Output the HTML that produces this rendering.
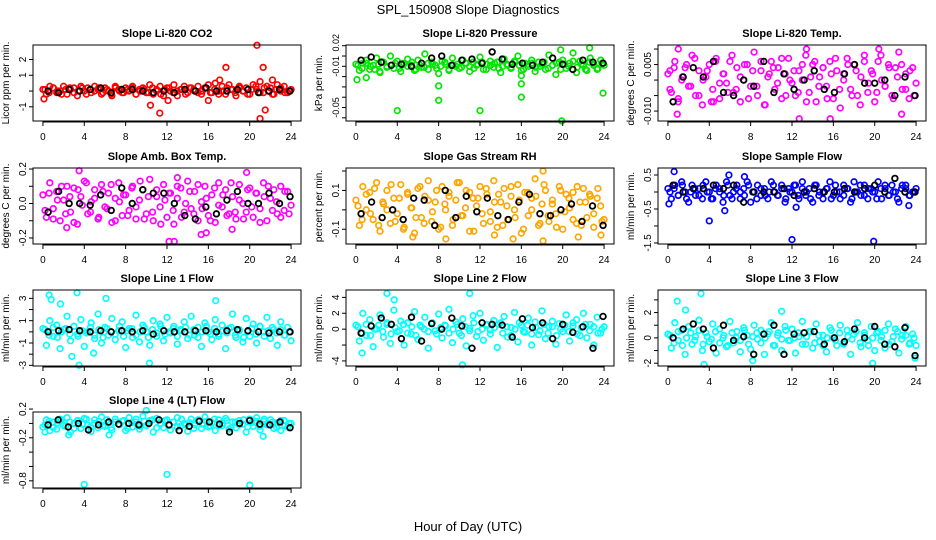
<!DOCTYPE html>
<html><head><meta charset="utf-8"><style>
html,body{margin:0;padding:0;background:#fff;}
svg{display:block;font-family:"Liberation Sans",Arial,sans-serif;}
</style></head><body>
<svg id="chart" width="936" height="540" viewBox="0 0 936 540" xmlns="http://www.w3.org/2000/svg">
<rect width="936" height="540" fill="#fff"/>
<text x="468" y="14" text-anchor="middle" font-size="13">SPL_150908  Slope Diagnostics</text>
<text x="468" y="531" text-anchor="middle" font-size="13">Hour of Day (UTC)</text>
</svg>
<script>
const xTicks = [0,4,8,12,16,20,24];
const titles = ["Slope Li-820 CO2","Slope Li-820 Pressure","Slope Li-820 Temp.","Slope Amb. Box Temp.","Slope Gas Stream RH","Slope Sample Flow","Slope Line 1 Flow","Slope Line 2 Flow","Slope Line 3 Flow","Slope Line 4 (LT) Flow"];
const yLabels = ["Licor ppm per min.","kPa per min.","degrees C per min.","degrees C per min.","percent per min.","ml/min per min.","ml/min per min.","ml/min per min.","ml/min per min.","ml/min per min."];
const colors = ["#ff0000","#00e600","#ff00ff","#ff00ff","#ffa500","#0000ff","#00ffff","#00ffff","#00ffff","#00ffff"];
const yDomains = [[-1.9,2.92],[-0.0531,0.0207],[-0.0132,0.0113],[-0.235,0.206],[-0.176,0.2155],[-1.53,0.706],[-3.06,3.75],[-4.64,4.93],[-2.22,3.78],[-0.9,0.159]];
const yTickVals = [[2,1,0,-1],[0.02,0.01,0,-0.01,-0.02,-0.03,-0.04,-0.05],[0.01,0.005,0,-0.005,-0.01],[0.2,0.1,0,-0.1,-0.2],[0.2,0.1,0,-0.1],[0.5,0,-0.5,-1,-1.5],[3,2,1,0,-1,-2,-3],[4,2,0,-2,-4],[3,2,1,0,-1,-2],[0.2,0,-0.2,-0.4,-0.6,-0.8]];
const yTickLabels = [["2","1","","-1"],["0.02","","-0.01","","","","-0.05",""],["","0.005","","","-0.010"],["0.2","","0.0","","-0.2"],["","0.1","","-0.1"],["0.5","","-0.5","","-1.5"],["3","","1","","-1","","-3"],["4","2","0","","-4"],["","2","","0","","-2"],["0.2","","-0.2","","","-0.8"]];

const col0=[0.1,-0.2,0.3,0.2,-0.1,0.0,0.3,-0.2,0.1,0.2,-0.3,0.3,0.0,0.2,-0.1,0.3,0.1,-0.2,0.2,0.0,-0.3,0.3,0.1,-0.1,0.2,0.0,0.3,-0.2,0.1,0.2,-0.1,0.4,-0.2,0.1,0.3,-0.3,0.2,0.0,0.4,-0.3,0.1,0.3,-0.1,0.2,0.0,0.3,-0.2,0.2,0.4,-0.1,0.5,0.0,0.3,-0.2,0.4,0.1,-0.3,0.3,0.0,0.2,-0.2,0.4,0.1,0.6,-0.1,0.3,0.2,-0.2,0.4,0.0,0.3,-0.1,0.1];
const core0=[0.1,-0.1,0.2,0.0,-0.2,0.1,0.2,-0.1,0.0,0.2,-0.2,0.1,0.0,0.2,-0.1,0.1,-0.2,0.2,0.0,-0.1,0.1,0.2,-0.2,0.0,0.1,-0.1,0.2,0.0,-0.2,0.1,0.2,-0.1,0.0,0.1,-0.2,0.2,0.1,-0.1,0.0,0.2,-0.1,0.1,-0.2,0.0,0.2,0.1,-0.1,0.2,0.0,-0.2,0.1,0.3,-0.1,0.2,0.0,-0.2,0.1,0.2,-0.1,0.0];
const blk0=[0.0,-0.1,0.1,0.0,0.1,0.2,-0.1,0.1,0.1,0.0,-0.1,0.0,-0.1,0.1,0.0,0.2,0.0,0.0,0.1,0.1,-0.1,0.0,0.1,0.0];
const outX0=[20.7,17.7,21.3,10.4,11.3,21.5,21.0,12.1,0.1,16.0,17.1,22.2];
const outY0=[2.9,1.5,1.5,-0.9,-1.4,-1.2,-1.75,-0.6,-0.5,-0.6,0.7,0.7];

const col1=[0.002,-0.004,0.003,0.006,-0.003,0.001,0.008,-0.006,0.004,0.000,0.010,-0.002,0.005,-0.005,0.003,0.007,0.001,-0.004,0.006,-0.001,0.012,-0.003,0.004,0.001,-0.007,0.005,0.002,-0.004,0.008,0.000,-0.002,0.006,0.003,-0.005,0.004,0.001,0.009,-0.003,0.002,0.005,-0.001,0.004,-0.006,0.007,0.001,-0.002,0.005,0.010,-0.004,0.003,0.000,0.006,-0.005,0.004,0.002,-0.003,0.011,0.001,-0.008,0.004,0.006,-0.002,0.003,0.013,-0.006,0.005,0.001,-0.004,0.008,0.002,-0.003,0.006,0.001];
const core1=[0.001,-0.002,0.003,0.000,-0.003,0.002,0.004,-0.001,0.001,0.003,-0.002,0.002,0.000,0.004,-0.003,0.001,-0.001,0.003,0.002,-0.002,0.000,0.004,-0.003,0.001,0.002,-0.001,0.003,0.000,-0.002,0.002,0.004,-0.003,0.001,0.003,-0.002,0.000,0.002,-0.001,0.004,0.001,-0.003,0.002,0.003,-0.001,0.000,0.004,-0.002,0.001,0.003,-0.003,0.002,0.000,0.005,-0.001,0.002,-0.003,0.004,0.001,-0.002,0.003];
const blk1=[0.006,0.009,0.004,0.001,0.002,0.000,0.003,0.008,0.010,0.001,0.006,0.007,0.003,0.014,0.007,0.002,0.003,0.001,0.004,0.008,0.002,-0.003,0.006,0.004,0.003];
const outX1=[4,8,12,16,19.9,23.9,0.1,8.0,16.0,19.8,22.6,16,1.0,2.3];
const outY1=[-0.043,-0.033,-0.043,-0.03,-0.053,-0.026,-0.013,-0.019,-0.017,0.016,0.018,-0.009,-0.011,-0.005];

const col2=[0.002,-0.004,0.006,-0.007,0.000,0.004,-0.002,0.008,-0.005,0.003,-0.008,0.001,0.005,-0.003,0.007,-0.006,0.002,-0.001,0.006,-0.004,0.004,-0.007,0.000,0.005,-0.002,0.009,-0.005,0.003,-0.008,0.001,0.006,-0.003,0.004,-0.006,0.002,0.007,-0.001,-0.005,0.003,0.000,0.008,-0.004,0.005,-0.007,0.001,0.004,-0.002,0.006,-0.006,0.003,-0.009,0.002,0.007,-0.003,0.005,-0.005,0.001,0.008,-0.004,0.003,-0.007,0.006,0.000,-0.002,0.005,-0.005,0.004,0.009,-0.003,0.002,-0.006,0.004,-0.001];
const core2=[-0.003,0.004,-0.006,0.001,0.005,-0.002,0.007,-0.005,0.000,0.003,-0.007,0.006,-0.001,0.002,-0.004,0.008,-0.003,0.001,0.005,-0.006,0.003,-0.002,0.006,-0.008,0.002,0.004,-0.001,0.007,-0.005,0.000,0.003,-0.004,0.005,-0.007,0.001,0.006,-0.002,0.004,-0.006,0.002,0.007,-0.003,0.000,0.005,-0.005,0.003,-0.008,0.006,-0.001,0.002,-0.004,0.008,-0.002,0.004,-0.006,0.001,0.005,-0.003,0.003,-0.005];
const blk2=[-0.007,0.001,0.004,0.001,0.006,-0.004,-0.005,0.000,-0.002,0.006,-0.004,0.002,-0.003,0.000,0.003,-0.003,-0.004,0.002,0.005,-0.001,-0.001,0.000,-0.005,0.001,-0.005];
const outX2=[0.9,12.7,15.7,13.4,20.4,22.6,1.0,4.4,0.2];
const outY2=[-0.011,-0.0125,-0.0125,0.010,0.010,-0.011,0.010,-0.007,0.003];

const col3=[0.05,-0.08,0.12,-0.03,0.07,-0.10,0.02,0.10,-0.05,0.09,-0.12,0.04,0.13,-0.06,0.01,0.08,-0.09,0.11,-0.02,0.06,-0.11,0.03,0.12,-0.07,0.05,-0.04,0.10,-0.09,0.02,0.08,-0.06,0.14,-0.10,0.04,-0.02,0.11,-0.08,0.06,-0.12,0.03,0.09,-0.05,0.13,-0.03,0.07,-0.10,0.01,0.10,-0.07,0.05,-0.11,0.12,-0.02,0.08,-0.06,0.04,-0.09,0.11,0.00,-0.05,0.09,-0.08,0.06,-0.03,0.12,-0.10,0.03,0.08,-0.06,0.10,-0.04,0.07,-0.01];
const core3=[-0.04,0.06,-0.09,0.02,0.10,-0.06,0.04,-0.11,0.08,-0.01,0.12,-0.05,0.03,-0.08,0.07,-0.03,0.11,-0.10,0.01,0.05,-0.07,0.09,-0.02,0.13,-0.09,0.04,-0.05,0.08,-0.12,0.02,0.06,-0.04,0.10,-0.08,0.00,0.07,-0.06,0.11,-0.03,0.03,-0.10,0.09,-0.01,0.05,-0.07,0.12,-0.05,0.02,-0.09,0.08,-0.02,0.06,-0.11,0.04,0.10,-0.04,0.01,-0.08,0.07,-0.06];
const blk3=[-0.05,0.07,0.00,0.00,-0.01,0.05,-0.04,0.09,0.00,0.08,0.06,0.06,0.00,-0.07,-0.09,-0.02,-0.06,0.02,0.07,0.00,0.00,0.06,0.00,0.04];
const outX3=[3.5,12.2,12.7,15.3,18.3,19.7,2.3,15.8,13.0];
const outY3=[0.19,-0.22,-0.22,-0.18,-0.15,0.18,-0.14,-0.17,0.15];

const col4=[0.05,-0.08,0.12,0.00,0.09,-0.05,0.14,-0.11,0.03,0.10,-0.07,0.06,-0.02,0.13,-0.09,0.08,0.01,-0.12,0.11,-0.04,0.07,0.15,-0.06,0.04,-0.10,0.12,0.00,0.09,-0.08,0.05,0.14,-0.03,0.10,-0.11,0.06,0.02,0.12,-0.07,0.08,-0.01,0.15,-0.09,0.04,0.11,-0.05,0.07,0.00,0.13,-0.12,0.09,-0.03,0.06,0.16,-0.08,0.03,0.10,-0.06,0.05,-0.02,0.12,-0.10,0.08,0.01,0.09,-0.07,0.04,0.11,-0.04,0.07,-0.09,0.06,0.02,-0.05];
const core4=[0.02,-0.05,0.08,-0.02,0.11,-0.08,0.04,0.00,0.13,-0.06,0.06,-0.10,0.09,0.01,-0.04,0.12,-0.07,0.05,-0.01,0.10,-0.09,0.03,0.07,-0.05,0.14,-0.03,0.01,0.09,-0.11,0.06,-0.02,0.11,-0.06,0.04,0.08,-0.08,0.02,0.12,-0.04,0.05,-0.10,0.09,0.00,0.07,-0.07,0.13,-0.03,0.03,-0.09,0.10,-0.01,0.06,-0.05,0.12,-0.08,0.04,0.08,-0.02,0.11,-0.06];
const blk4=[-0.02,0.04,-0.04,0.00,-0.05,0.06,0.05,-0.08,0.10,-0.04,0.07,-0.01,0.06,-0.03,-0.05,0.04,0.08,-0.02,-0.03,0.00,0.03,-0.06,0.02,-0.08];
const outX4=[18.1,15.2,8.7,13.4,5.5,18.1,23.7,21.5];
const outY4=[0.2,-0.15,-0.15,-0.13,-0.14,-0.16,-0.13,-0.14];

const col5=[0.1,-0.2,0.2,-0.1,0.3,0.0,-0.3,0.2,-0.1,0.1,-0.2,0.3,0.0,-0.2,0.2,0.1,-0.3,0.3,-0.1,0.0,0.2,-0.2,0.1,0.3,-0.3,0.0,0.2,-0.1,0.1,-0.2,0.3,0.0,-0.1,0.2,-0.3,0.1,0.0,0.2,-0.2,0.3,-0.1,0.1,-0.3,0.2,0.0,-0.2,0.1,0.3,-0.1,0.0,-0.2,0.2,0.1,-0.3,0.3,0.0,-0.1,0.2,-0.2,0.1,0.0,0.3,-0.2,0.1,-0.1,0.2,0.0,-0.3,0.2,0.1,-0.1,0.0,0.1];
const core5=[0.0,0.1,-0.1,0.2,-0.2,0.0,0.1,-0.1,0.2,0.0,-0.2,0.1,0.0,-0.1,0.2,-0.2,0.1,0.0,-0.1,0.2,0.0,-0.2,0.1,-0.1,0.0,0.2,-0.1,0.1,-0.2,0.0,0.2,-0.1,0.1,0.0,-0.2,0.2,-0.1,0.0,0.1,-0.2,0.2,0.0,-0.1,0.1,-0.2,0.0,0.2,-0.1,0.1,0.0,-0.2,0.1,0.2,-0.1,0.0,-0.2,0.1,0.2,-0.1,0.0];
const blk5=[0.2,0.0,0.1,0.1,0.2,0.1,0.2,-0.3,0.0,0.0,0.0,0.1,-0.1,0.0,0.1,0.0,0.0,0.1,0.0,0.1,0.2,0.0,0.4,0.0,0.0];
const outX5=[4.0,12.0,19.9,5.5,0.6,5.9,7.4,0.1,23.3,12.4];
const outY5=[-0.85,-1.4,-1.45,-0.55,0.6,0.5,0.45,-0.35,-0.4,-0.45];

const col6=[0.3,-1.2,1.0,-0.4,0.6,-1.5,0.2,1.4,-0.8,0.5,-0.2,1.1,-1.3,0.0,0.8,-0.6,1.6,-1.0,0.4,-0.3,1.2,-0.7,0.1,0.9,-1.4,0.3,-0.5,1.5,-0.9,0.6,0.0,-1.2,1.0,-0.4,0.7,-0.8,1.3,-0.1,0.5,-1.1,0.2,0.9,-0.6,1.4,-0.3,0.4,-1.3,0.8,0.0,-0.7,1.1,-0.2,0.6,-1.5,0.3,1.6,-0.5,0.1,-0.9,1.2,-0.4,0.7,-1.0,0.5,0.0,1.3,-0.6,0.2,-1.2,0.9,-0.3,0.4,-0.8];
const core6=[0.2,-0.3,0.4,-0.5,0.0,0.3,-0.2,0.5,-0.4,0.1,-0.1,0.4,-0.3,0.2,-0.5,0.3,0.0,-0.2,0.5,-0.4,0.1,0.3,-0.3,0.0,0.4,-0.5,0.2,-0.1,0.5,-0.2,0.0,0.3,-0.4,0.1,0.4,-0.3,0.2,-0.5,0.0,0.5,-0.2,0.3,-0.4,0.1,-0.1,0.4,-0.3,0.2,-0.5,0.0,0.3,-0.2,0.5,-0.4,0.1,0.4,-0.1,0.2,-0.3,0.0];
const blk6=[0.0,0.1,0.2,0.1,0.0,0.1,0.0,0.1,0.0,0.1,-0.2,0.1,0.0,0.0,0.1,0.1,0.0,0.1,0.2,0.1,0.0,-0.1,0.0,0.0];
const outX6=[0.6,0.8,3.3,3.5,10.3,2.8,16.7,6.1,4.9,1.7];
const outY6=[3.3,2.9,3.5,-3.0,-2.8,-2.2,2.8,3.0,-1.9,2.5];

const col7=[0.5,-1.5,2.0,-0.8,1.2,-2.2,0.0,1.8,-1.0,0.6,-1.8,2.4,-0.3,1.0,-2.0,0.8,-0.6,2.2,-1.3,0.3,1.5,-2.4,0.7,-0.2,1.9,-1.1,0.4,2.5,-1.7,0.9,-0.5,1.3,-2.1,0.1,1.7,-0.9,2.0,-1.4,0.6,-0.1,1.1,-2.3,0.8,1.6,-1.0,0.2,2.1,-1.6,0.5,-0.4,1.4,-2.0,0.9,-0.7,2.3,-1.2,0.3,1.0,-1.9,0.7,-0.3,1.8,-1.5,0.4,1.2,-0.8,2.0,-1.1,0.6,-2.0,1.5,-0.5,0.3];
const core7=[0.3,-0.5,0.6,-0.8,0.0,0.5,-0.3,0.8,-0.6,0.2,-0.2,0.6,-0.5,0.3,-0.8,0.5,0.0,-0.3,0.8,-0.6,0.2,0.5,-0.5,0.0,0.6,-0.8,0.3,-0.2,0.8,-0.3,0.0,0.5,-0.6,0.2,0.6,-0.5,0.3,-0.8,0.0,0.8,-0.3,0.5,-0.6,0.2,-0.2,0.6,-0.5,0.3,-0.8,0.0,0.5,-0.3,0.8,-0.6,0.2,0.6,-0.2,0.3,-0.5,0.0];
const blk7=[-0.5,0.4,1.4,0.6,-1.2,1.5,-1.5,0.7,0.0,1.4,0.4,-2.4,0.8,0.6,0.5,-1.0,1.3,0.2,0.8,-1.2,0.6,-0.4,0.3,-2.4,1.6];
const outX7=[3.0,11.0,10.3,0.6,3.7];
const outY7=[4.5,4.5,-4.5,-3.0,3.7];

const col8=[0.3,-0.8,1.2,-0.2,0.6,-1.3,0.9,-0.5,0.1,1.4,-1.0,0.4,-0.3,1.1,-1.2,0.7,0.0,-0.7,1.3,-0.4,0.5,-1.1,0.8,0.2,-0.9,1.0,-0.1,0.6,-1.3,0.3,1.2,-0.6,0.4,-1.0,0.9,-0.2,0.7,-1.2,0.1,1.3,-0.5,0.5,-0.8,1.1,-0.3,0.2,-1.1,0.8,0.0,-0.6,1.0,-0.4,0.6,-1.3,0.3,1.2,-0.7,0.4,-0.2,0.9,-1.0,0.5,0.1,-0.8,1.1,-0.3,0.7,-1.2,0.2,0.9,-0.5,0.3,-0.6];
const core8=[0.2,-0.4,0.5,-0.6,0.0,0.4,-0.2,0.6,-0.5,0.1,-0.1,0.5,-0.4,0.2,-0.6,0.4,0.0,-0.2,0.6,-0.5,0.1,0.4,-0.4,0.0,0.5,-0.6,0.2,-0.1,0.6,-0.2,0.0,0.4,-0.5,0.1,0.5,-0.4,0.2,-0.6,0.0,0.6,-0.2,0.4,-0.5,0.1,-0.1,0.5,-0.4,0.2,-0.6,0.0,0.4,-0.2,0.6,-0.5,0.1,0.5,-0.1,0.2,-0.4,0.0];
const blk8=[0.0,0.7,1.1,0.7,-0.8,1.0,-0.2,0.1,-1.3,0.3,1.0,-1.3,0.3,0.4,0.5,-0.5,0.0,-0.3,0.7,0.0,0.9,-0.5,-0.7,0.8,-1.4];
const outX8=[0.9,3.2,3.5,19.8,11.0,1.7,8.2,23.9];
const outY8=[2.9,3.5,-2.1,-2.0,2.1,2.2,-1.8,-1.6];

const col9=[-0.05,0.05,-0.10,0.02,-0.08,0.06,-0.03,0.08,-0.12,0.00,0.04,-0.07,0.07,-0.02,-0.11,0.05,-0.06,0.09,-0.04,0.01,-0.09,0.06,-0.01,0.03,-0.10,0.08,-0.05,0.02,-0.08,0.10,-0.03,0.04,-0.12,0.07,-0.01,-0.06,0.05,-0.09,0.02,0.08,-0.04,0.00,-0.11,0.06,-0.02,0.03,-0.07,0.09,-0.05,0.01,-0.10,0.05,-0.03,0.07,-0.08,0.02,-0.06,0.04,-0.01,-0.12,0.06,-0.04,0.08,-0.09,0.03,-0.02,0.05,-0.07,0.01,-0.10,0.04,-0.05,0.00];
const core9=[-0.02,0.03,-0.06,0.01,0.05,-0.04,0.02,-0.07,0.04,-0.01,0.06,-0.05,0.00,0.03,-0.03,0.05,-0.06,0.02,-0.02,0.04,-0.07,0.01,0.06,-0.04,0.03,-0.01,0.05,-0.06,0.00,0.04,-0.03,0.02,-0.05,0.06,-0.02,0.01,-0.07,0.05,-0.01,0.03,-0.04,0.06,-0.03,0.00,0.04,-0.06,0.02,-0.02,0.05,-0.05,0.01,0.03,-0.04,0.06,-0.01,0.02,-0.06,0.04,-0.03,0.00];
const blk9=[-0.02,0.05,-0.05,0.00,-0.09,-0.02,0.02,-0.01,0.00,-0.02,0.00,0.05,-0.02,-0.10,-0.04,0.03,0.02,-0.01,-0.12,0.00,0.04,-0.01,-0.02,0.02,-0.06];
const outX9=[4,12,20,10,2.5,6.4,21.3,0.2];
const outY9=[-0.85,-0.71,-0.86,0.18,-0.16,-0.16,-0.18,-0.12];

const cols=[col0,col1,col2,col3,col4,col5,col6,col7,col8,col9];
const cores=[core0,core1,core2,core3,core4,core5,core6,core7,core8,core9];
const blks=[blk0,blk1,blk2,blk3,blk4,blk5,blk6,blk7,blk8,blk9];
const outXs=[outX0,outX1,outX2,outX3,outX4,outX5,outX6,outX7,outX8,outX9];
const outYs=[outY0,outY1,outY2,outY3,outY4,outY5,outY6,outY7,outY8,outY9];

const NS="http://www.w3.org/2000/svg";
const svg=document.getElementById("chart");
const colLeft=[33,346,658], rowTop=[45,168,290,412], BW=268, BH=76;
function mk(tag,attrs,parent){const e=document.createElementNS(NS,tag);for(const k in attrs)e.setAttribute(k,attrs[k]);(parent||svg).appendChild(e);return e;}

for(let p=0;p<10;p++){
  const L=colLeft[p%3], T=rowTop[Math.floor(p/3)];
  const d=yDomains[p];
  const xs=h=>L+(h+0.96)/25.92*BW;
  const ys=v=>T+BH-(v-d[0])/(d[1]-d[0])*BH;
  const g=mk("g",{});
  
  
  const tt=mk("text",{x:L+BW/2,y:T-8,"text-anchor":"middle","font-size":"11","font-weight":"bold"},g);
  tt.textContent=titles[p];
  
  
  const yl=mk("text",{x:0,y:0,"text-anchor":"middle","font-size":"10",transform:`translate(${L-24},${T+BH/2}) rotate(-90)`},g);
  yl.textContent=yLabels[p];
  
  
  const c=cols[p];
  for(let i=0;i<c.length;i++){
    const pt=mk("circle",{cx:xs(i*24/(c.length-1)),cy:ys(c[i]),r:2.8,fill:"none",stroke:colors[p],"stroke-width":1.7},g);
    
    
  }
  const k=cores[p];
  for(let i=0;i<k.length;i++){
    const pt=mk("circle",{cx:xs(0.2+i*23.6/(k.length-1)),cy:ys(k[i]),r:2.8,fill:"none",stroke:colors[p],"stroke-width":1.7},g);
    
    
  }
  const ox=outXs[p], oy=outYs[p];
  for(let i=0;i<ox.length;i++){
    const pt=mk("circle",{cx:xs(ox[i]),cy:ys(oy[i]),r:2.8,fill:"none",stroke:colors[p],"stroke-width":1.7},g);
    
    
  }
  const b=blks[p];
  for(let i=0;i<b.length;i++){
    const pt=mk("circle",{cx:xs(0.5+i*23.4/(b.length-1)),cy:ys(b[i]),r:2.8,fill:"none",stroke:"#000","stroke-width":1.8},g);
    
    
  }
  const box=mk("rect",{x:L,y:T,width:BW,height:BH,fill:"none",stroke:"#000","stroke-width":1},g);
  
  
  mk("line",{x1:xs(0),x2:xs(24),y1:T+BH+1,y2:T+BH+1,stroke:"#000"},g);
  for(const t of xTicks){
    mk("line",{x1:xs(t),x2:xs(t),y1:T+BH,y2:T+BH+5,stroke:"#000"},g);
    const lt=mk("text",{x:xs(t),y:T+BH+19,"text-anchor":"middle","font-size":"10"},g);
    lt.textContent=t;
    
    
  }
  const tv=yTickVals[p], tl=yTickLabels[p];
  const fs = p===1 ? 9 : 10;
  for(let i=0;i<tv.length;i++){
    const y=ys(tv[i]);
    mk("line",{x1:L-4,x2:L,y1:y,y2:y,stroke:"#000"},g);
    if(tl[i]){
      const yy = (p===1 && i===0) ? y-3 : y;
      const lt=mk("text",{x:0,y:0,"text-anchor":"middle","font-size":fs,transform:`translate(${L-7},${yy}) rotate(-90)`},g);
      lt.textContent=tl[i];
      
      
    }
  }
}
</script>
</body></html>
